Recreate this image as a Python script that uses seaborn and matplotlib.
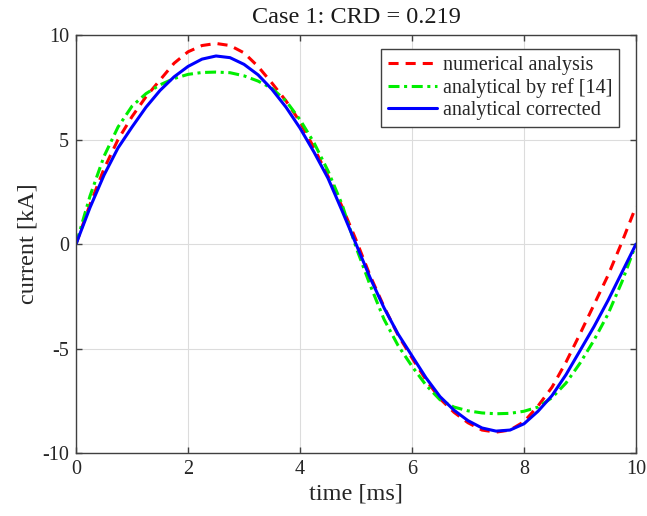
import numpy as np
import pandas as pd
import matplotlib
matplotlib.use('Agg')
import matplotlib.pyplot as plt
import seaborn as sns

# tiempo [ms], paso de 0.25 ms
t = np.arange(0, 10.01, 0.25)

# valores [kA]
numerical = [0.0, 1.9, 3.6, 5.0, 6.1, 7.05, 7.85, 8.65, 9.2, 9.5, 9.6, 9.5, 9.15, 8.5, 7.7,
             6.85, 5.85, 4.6, 3.25, 1.8, 0.2, -1.5, -3.0, -4.35, -5.45, -6.5, -7.4, -8.05,
             -8.55, -8.9, -9.0, -8.9, -8.5, -7.75, -6.85, -5.65, -4.3, -2.9, -1.5, 0.1, 1.8]
analytical_ref = [0.0, 2.3, 4.2, 5.6, 6.6, 7.2, 7.62, 7.92, 8.12, 8.21, 8.23, 8.2, 8.05, 7.8,
                  7.45, 6.85, 5.95, 4.85, 3.5, 1.9, -0.15, -1.95, -3.6, -4.85, -5.85, -6.75,
                  -7.45, -7.8, -7.98, -8.08, -8.12, -8.1, -8.0, -7.8, -7.35, -6.65, -5.7,
                  -4.6, -3.35, -1.8, 0.0]
corrected = [0.0, 1.75, 3.3, 4.6, 5.6, 6.55, 7.35, 8.0, 8.5, 8.85, 9.0, 8.92, 8.6, 8.1, 7.4,
             6.55, 5.55, 4.4, 3.15, 1.6, 0.0, -1.6, -3.05, -4.3, -5.35, -6.4, -7.3, -7.95,
             -8.45, -8.8, -8.95, -8.9, -8.6, -8.0, -7.25, -6.25, -5.1, -3.95, -2.7, -1.35, 0.0]

labels = ['numerical analysis', 'analytical by ref [14]', 'analytical corrected']
xticks = [0, 2, 4, 6, 8, 10]
yticks = [-10, -5, 0, 5, 10]

df = pd.DataFrame({'t': t, 'num': numerical, 'ref': analytical_ref, 'corr': corrected})

sns.set_style('whitegrid')
plt.rcParams['font.family'] = ['Liberation Serif', 'DejaVu Serif']
plt.rcParams['axes.unicode_minus'] = False

fig = plt.figure(figsize=(6.47, 5.16), dpi=100)
ax = fig.add_axes([0.1175, 0.122, 0.8655, 0.81])

sns.lineplot(data=df, x='t', y='num', ax=ax, color='#ff0000', lw=2.2,
             linestyle=(0, (3.3, 2.3)), label=labels[0])
sns.lineplot(data=df, x='t', y='ref', ax=ax, color='#00ee00', lw=2.2,
             linestyle=(0, (3.6, 1.5, 1, 1.5)), label=labels[1])
sns.lineplot(data=df, x='t', y='corr', ax=ax, color='#0000ff', lw=2.2,
             linestyle='-', label=labels[2])

ax.set_xlim(0, 10)
ax.set_ylim(-10, 10)
ax.set_xticks(xticks)
ax.set_yticks(yticks)
ax.grid(True, color='#dcdcdc', lw=0.8)
for s in ax.spines.values():
    s.set_color('#404040')
    s.set_linewidth(1.0)
ax.tick_params(direction='in', length=4, width=1, colors='#404040', labelcolor='#262626',
               labelsize=14.5, top=True, right=True, bottom=True, left=True, pad=5)

ax.set_title('Case 1: CRD = 0.219', fontsize=17.5, color='#1a1a1a', pad=9)
ax.set_xlabel('time [ms]', fontsize=17.5, color='#262626', labelpad=3)
ax.set_ylabel('current [kA]', fontsize=17.5, color='#262626', labelpad=3)

leg = ax.legend(loc='upper right', bbox_to_anchor=(0.97, 0.967), fontsize=14.5,
                frameon=True, fancybox=False, framealpha=1, edgecolor='#404040',
                handlelength=2.4, labelspacing=0.15, borderpad=0.35, handletextpad=0.3,
                borderaxespad=0)
leg.get_frame().set_linewidth(1.0)

fig.savefig('out.png', dpi=100)
